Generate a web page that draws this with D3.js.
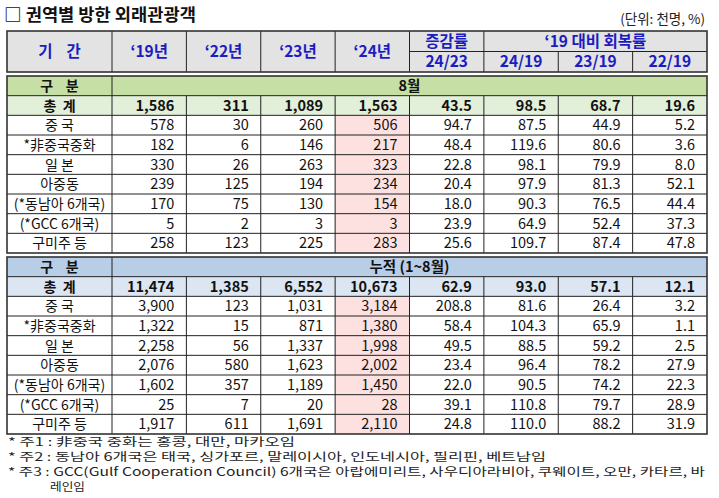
<!DOCTYPE html>
<html><head><meta charset="utf-8">
<script src="https://cdn.jsdelivr.net/npm/d3@7/dist/d3.min.js"></script>
<style>body{margin:0;background:#fff}svg{display:block}text{white-space:pre}</style>
</head><body><svg id="c" width="719" height="498"></svg>
<script>
const rowLabels = ["총 계","중 국","*非중국중화","일 본","아중동","(*동남아 6개국)","(*GCC 6개국)","구미주 등"];
const yearHeads = ["‘19년","‘22년","‘23년","‘24년"];
const rateSub = ["24/23","24/19","23/19","22/19"];

const aug19 = [1586,578,182,330,239,170,5,258];
const aug22 = [311,30,6,26,125,75,2,123];
const aug23 = [1089,260,146,263,194,130,3,225];
const aug24 = [1563,506,217,323,234,154,3,283];
const augG2423 = [43.5,94.7,48.4,22.8,20.4,18.0,23.9,25.6];
const augR2419 = [98.5,87.5,119.6,98.1,97.9,90.3,64.9,109.7];
const augR2319 = [68.7,44.9,80.6,79.9,81.3,76.5,52.4,87.4];
const augR2219 = [19.6,5.2,3.6,8.0,52.1,44.4,37.3,47.8];

const cum19 = [11474,3900,1322,2258,2076,1602,25,1917];
const cum22 = [1385,123,15,56,580,357,7,611];
const cum23 = [6552,1031,871,1337,1623,1189,20,1691];
const cum24 = [10673,3184,1380,1998,2002,1450,28,2110];
const cumG2423 = [62.9,208.8,58.4,49.5,23.4,22.0,39.1,24.8];
const cumR2419 = [93.0,81.6,104.3,88.5,96.4,90.5,110.8,110.0];
const cumR2319 = [57.1,26.4,65.9,59.2,78.2,74.2,79.7,88.2];
const cumR2219 = [12.1,3.2,1.1,2.5,27.9,22.3,28.9,31.9];

const footnotes = [
  "* 주1 : 非중국 중화는 홍콩, 대만, 마카오임",
  "* 주2 : 동남아 6개국은 태국, 싱가포르, 말레이시아, 인도네시아, 필리핀, 베트남임",
  "* 주3 : GCC(Gulf Cooperation Council) 6개국은 아랍에미리트, 사우디아라비아, 쿠웨이트, 오만, 카타르, 바",
  "레인임"
];

const F = "'Noto Sans CJK KR','Noto Sans',sans-serif";
const svg = d3.select("#c");
const blue = "#1c1cc0";
const line = "#222";

const L = 7, LW = 112, R = 707;
const colKeys = d3.range(8);
const x = d3.scaleBand().domain(colKeys).range([LW, R]);

// title
svg.append("text").attr("x",4).attr("y",21).attr("font-family",F).attr("font-weight","bold")
  .attr("font-size",17).attr("fill","#111").attr("textLength",192).attr("lengthAdjust","spacingAndGlyphs")
  .text("□ 권역별 방한 외래관광객");
svg.append("text").attr("x",705).attr("y",24).attr("text-anchor","end").attr("font-family",F)
  .attr("font-size",13.5).attr("fill","#222").text("(단위: 천명, %)");

// header
const hy = d3.scaleBand().domain(["a","b"]).range([31,72]);
const hg = svg.append("g");
hg.append("rect").attr("x",L).attr("y",31).attr("width",R-L).attr("height",41).attr("fill","#e3e3e3");
function htext(cx, cy, t){
  hg.append("text").attr("x",cx).attr("y",cy).attr("dy","0.36em").attr("text-anchor","middle")
    .attr("font-family",F).attr("font-weight","bold").attr("font-size",15.5).attr("fill",blue).text(t);
}
htext((L+LW)/2, 51.5, "기    간");
yearHeads.forEach((t,i)=>htext(x(i)+x.bandwidth()/2, 51.5, t));
htext(x(4)+x.bandwidth()/2, hy("a")+hy.bandwidth()/2, "증감률");
htext((x(5)+R)/2, hy("a")+hy.bandwidth()/2, "‘19 대비 회복률");
rateSub.forEach((t,i)=>htext(x(4+i)+x.bandwidth()/2, hy("b")+hy.bandwidth()/2, t));
hg.append("line").attr("x1",x(4)).attr("x2",R).attr("y1",hy("b")).attr("y2",hy("b")).attr("stroke",line);
[LW, ...colKeys.slice(1).map(c=>x(c))].forEach((xx,i)=>{
  const top = (i>=6) ? hy("b") : 31;
  hg.append("line").attr("x1",xx).attr("x2",xx).attr("y1",top).attr("y2",72).attr("stroke",line);
});
hg.append("rect").attr("x",L).attr("y",31).attr("width",R-L).attr("height",41).attr("fill","none")
  .attr("stroke","#333").attr("stroke-width",1.6);

// sections
function section(top, bottom, title, cols, hdrFill, totFill){
  const g = svg.append("g");
  const rows = ["hdr", ...rowLabels];
  const y = d3.scaleBand().domain(rows).range([top,bottom]);
  const bw = y.bandwidth();
  g.append("rect").attr("x",L).attr("y",y("hdr")).attr("width",R-L).attr("height",bw).attr("fill",hdrFill);
  g.append("rect").attr("x",L).attr("y",y(rowLabels[0])).attr("width",R-L).attr("height",bw).attr("fill",totFill);
  g.selectAll("rect.pink").data(rowLabels.slice(1)).enter().append("rect")
    .attr("x",x(3)).attr("y",d=>y(d)).attr("width",x.bandwidth()).attr("height",bw).attr("fill","#fde0e0");
  g.append("text").attr("x",(L+LW)/2).attr("y",y("hdr")+bw/2).attr("dy","0.36em").attr("text-anchor","middle")
    .attr("font-family",F).attr("font-weight","bold").attr("font-size",14).attr("fill","#111").text("구    분");
  g.append("text").attr("x",(LW+R)/2).attr("y",y("hdr")+bw/2).attr("dy","0.36em").attr("text-anchor","middle")
    .attr("font-family",F).attr("font-weight","bold").attr("font-size",14.5).attr("fill","#111").text(title);
  g.selectAll("text.lab").data(rowLabels).enter().append("text")
    .attr("x",(L+LW)/2).attr("y",d=>y(d)+bw/2).attr("dy","0.36em").attr("text-anchor","middle")
    .attr("font-family",F).attr("font-size",14).attr("font-weight",(d,i)=>i===0?"bold":"normal")
    .attr("fill","#111").text((d,i)=>i===0?"총  계":d);
  cols.forEach((arr,ci)=>{
    const fmt = ci<4 ? d3.format(",") : d3.format(".1f");
    g.selectAll(null).data(arr).enter().append("text")
      .attr("x",x(ci)+x.bandwidth()-12).attr("y",(d,i)=>y(rowLabels[i])+bw/2).attr("dy","0.36em")
      .attr("text-anchor","end").attr("font-family",F).attr("font-size",14.5)
      .attr("font-weight",(d,i)=>i===0?"bold":"normal").attr("fill","#111").text(d=>fmt(d));
  });
  rows.slice(1).forEach(r=>{
    g.append("line").attr("x1",L).attr("x2",R).attr("y1",y(r)).attr("y2",y(r)).attr("stroke",line).attr("stroke-width",1);
  });
  g.append("line").attr("x1",LW).attr("x2",LW).attr("y1",top).attr("y2",bottom).attr("stroke",line);
  colKeys.slice(1).forEach(c=>{
    g.append("line").attr("x1",x(c)).attr("x2",x(c)).attr("y1",y(rowLabels[0])).attr("y2",bottom).attr("stroke",line);
  });
  g.append("rect").attr("x",L).attr("y",top).attr("width",R-L).attr("height",bottom-top).attr("fill","none")
    .attr("stroke","#333").attr("stroke-width",1.6);
}
section(76, 253, "8월", [aug19,aug22,aug23,aug24,augG2423,augR2419,augR2319,augR2219], "#c5dfa5", "#e2efd9");
section(257, 434, "누적 (1~8월)", [cum19,cum22,cum23,cum24,cumG2423,cumR2419,cumR2319,cumR2219], "#b8cde6", "#dce6f2");

// footnotes
const fx = [8,8,8,50];
const fw = [287,538,697,35];
footnotes.forEach((t,i)=>{
  svg.append("text").attr("x",fx[i]).attr("y",446+i*15).attr("font-family",F).attr("font-size",11.5)
    .attr("fill","#222").attr("textLength",fw[i]).attr("lengthAdjust","spacingAndGlyphs").text(t);
});
</script></body></html>
